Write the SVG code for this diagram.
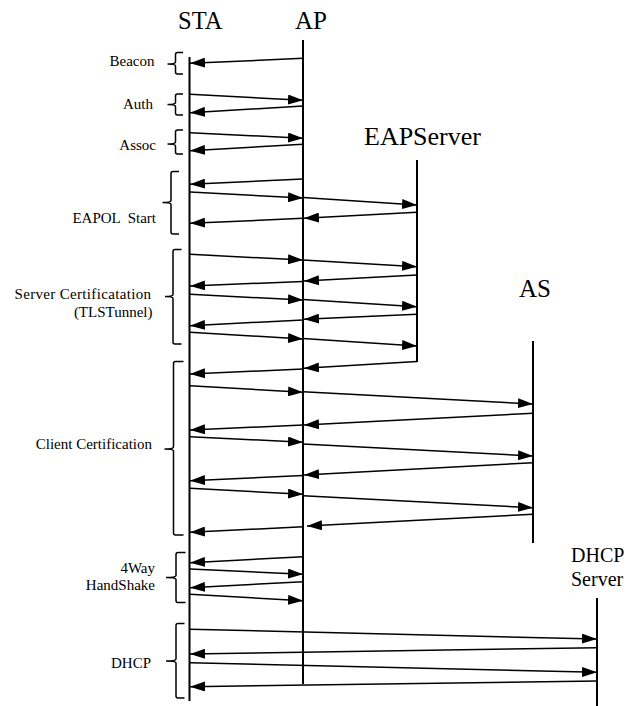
<svg xmlns="http://www.w3.org/2000/svg" width="640" height="706" viewBox="0 0 640 706">
<style>
.bg{fill:#ffffff}
.life{stroke:#000;stroke-width:2;fill:none}
.msg{stroke:#000;stroke-width:1.5;fill:none;marker-end:url(#ah)}
.brace{stroke:#000;stroke-width:1.5;fill:none}
.title{font-family:'Liberation Serif','Times New Roman',Times,'DejaVu Serif',serif;fill:#000}
.lbl{font-family:'Liberation Serif','Times New Roman',Times,'DejaVu Serif',serif;font-size:15px;fill:#000;text-anchor:end}
</style>
<defs>
<marker id="ah" markerUnits="userSpaceOnUse" markerWidth="15" markerHeight="10" refX="15" refY="5" orient="auto">
<path d="M0,0 L15,5 L0,10 z" fill="#000"/>
</marker>
</defs>
<rect class="bg" x="0" y="0" width="640" height="706"/>

<g id="STA">
<text class="title" x="178" y="29" font-size="24.5">STA</text>
<line class="life" x1="189.5" y1="57" x2="189.5" y2="701"/>
</g>
<g id="AP">
<text class="title" x="295" y="29" font-size="25">AP</text>
<line class="life" x1="303" y1="40" x2="303" y2="684"/>
</g>
<g id="EAPServer">
<text class="title" x="364" y="145" font-size="26">EAPServer</text>
<line class="life" x1="417" y1="160" x2="417" y2="362"/>
</g>
<g id="AS">
<text class="title" x="519" y="297" font-size="25">AS</text>
<line class="life" x1="533" y1="341" x2="533" y2="543"/>
</g>
<g id="DHCPServer">
<text class="title" x="571" y="561.5" font-size="20">DHCP</text>
<text class="title" x="571" y="585.5" font-size="20">Server</text>
<line class="life" x1="597" y1="598" x2="597" y2="706"/>
</g>

<g id="phase-beacon">
<text class="lbl" x="154.5" y="66">Beacon</text>
<path class="brace" d="M183,52.5 H177.5 Q175.5,52.5 175.5,54.5 V62 Q175.5,64 167.5,64 Q175.5,64 175.5,66 V72 Q175.5,74 177.5,74 H183"/>
</g>
<g id="phase-auth">
<text class="lbl" x="153" y="108.5">Auth</text>
<path class="brace" d="M183,94 H177.5 Q175.5,94 175.5,96 V102.5 Q175.5,104.5 167.5,104.5 Q175.5,104.5 175.5,106.5 V113 Q175.5,115 177.5,115 H183"/>
</g>
<g id="phase-assoc">
<text class="lbl" x="156" y="150">Assoc</text>
<path class="brace" d="M183,130 H177.5 Q175.5,130 175.5,132 V142 Q175.5,144 167.5,144 Q175.5,144 175.5,146 V152 Q175.5,154 177.5,154 H183"/>
</g>
<g id="phase-eapol">
<text class="lbl" x="156" y="223" xml:space="preserve">EAPOL  Start</text>
<path class="brace" d="M179,171.5 H173 Q171,171.5 171,173.5 V200.5 Q171,202.5 162.5,202.5 Q171,202.5 171,204.5 V232 Q171,234 173,234 H179"/>
</g>
<g id="phase-servercert">
<text class="lbl" x="151.3" y="299" letter-spacing="0.33">Server Certificatation</text>
<text class="lbl" x="152.5" y="316.5">(TLSTunnel)</text>
<path class="brace" d="M181.5,249.5 H175 Q173,249.5 173,251.5 V294.5 Q173,296.5 165,296.5 Q173,296.5 173,298.5 V342 Q173,344 175,344 H181.5"/>
</g>
<g id="phase-clientcert">
<text class="lbl" x="152" y="449">Client Certification</text>
<path class="brace" d="M183.5,361.5 H175.5 Q173.5,361.5 173.5,363.5 V447 Q173.5,449 164.5,449 Q173.5,449 173.5,451 V533 Q173.5,535 175.5,535 H183.5"/>
</g>
<g id="phase-4way">
<text class="lbl" x="155" y="572.5">4Way</text>
<text class="lbl" x="155" y="589.5">HandShake</text>
<path class="brace" d="M185.5,552.5 H178 Q176,552.5 176,554.5 V575.5 Q176,577.5 166,577.5 Q176,577.5 176,579.5 V600.5 Q176,602.5 178,602.5 H185.5"/>
</g>
<g id="phase-dhcp">
<text class="lbl" x="151" y="667.5">DHCP</text>
<path class="brace" d="M184.5,623.5 H178 Q176,623.5 176,625.5 V659 Q176,661 166,661 Q176,661 176,663 V696 Q176,698 178,698 H184.5"/>
</g>

<g id="connectors">
<line class="msg" x1="303" y1="58.3" x2="190" y2="63.3"/>
<line class="msg" x1="190" y1="94.3" x2="303" y2="100.3"/>
<line class="msg" x1="303" y1="106" x2="190" y2="112.7"/>
<line class="msg" x1="190" y1="132.7" x2="303" y2="138.3"/>
<line class="msg" x1="303" y1="144.3" x2="190" y2="150.7"/>

<line class="msg" x1="303" y1="179" x2="190" y2="184.3"/>
<line class="msg" x1="190" y1="192" x2="303" y2="198"/>
<line class="msg" x1="303" y1="197.5" x2="417" y2="205"/>
<line class="msg" x1="417" y1="212.3" x2="304" y2="218.3"/>
<line class="msg" x1="303" y1="218.3" x2="190" y2="223.3"/>

<line class="msg" x1="190" y1="254.3" x2="303" y2="260"/>
<line class="msg" x1="303" y1="260" x2="417" y2="266.7"/>
<line class="msg" x1="417" y1="275" x2="304" y2="281"/>
<line class="msg" x1="303" y1="281.5" x2="190" y2="286"/>
<line class="msg" x1="190" y1="294.3" x2="303" y2="300"/>
<line class="msg" x1="303" y1="299.5" x2="417" y2="306.7"/>
<line class="msg" x1="417" y1="314.3" x2="304" y2="319.3"/>
<line class="msg" x1="303" y1="320" x2="190" y2="325.7"/>
<line class="msg" x1="190" y1="332.3" x2="303" y2="339"/>
<line class="msg" x1="303" y1="338.5" x2="417" y2="346"/>
<line class="msg" x1="417" y1="361.5" x2="304" y2="368.3"/>
<line class="msg" x1="303" y1="369" x2="190" y2="374"/>

<line class="msg" x1="190" y1="385.7" x2="303" y2="392.3"/>
<line class="msg" x1="303" y1="391.7" x2="533" y2="404"/>
<line class="msg" x1="533" y1="413.3" x2="304" y2="425"/>
<line class="msg" x1="303" y1="425" x2="190" y2="430"/>
<line class="msg" x1="190" y1="436.7" x2="303" y2="442.3"/>
<line class="msg" x1="303" y1="444" x2="533" y2="456"/>
<line class="msg" x1="533" y1="462.7" x2="304" y2="475"/>
<line class="msg" x1="303" y1="475.5" x2="190" y2="480.7"/>
<line class="msg" x1="190" y1="488.3" x2="303" y2="494.3"/>
<line class="msg" x1="303" y1="495.7" x2="533" y2="507.7"/>
<line class="msg" x1="533" y1="514.3" x2="307" y2="526"/>
<line class="msg" x1="303" y1="526.7" x2="190" y2="532.3"/>

<line class="msg" x1="303" y1="556.7" x2="190" y2="562.7"/>
<line class="msg" x1="190" y1="569" x2="303" y2="574.3"/>
<line class="msg" x1="303" y1="581.7" x2="190" y2="587.7"/>
<line class="msg" x1="190" y1="594.3" x2="303" y2="600.7"/>

<line class="msg" x1="190" y1="629.3" x2="597" y2="639"/>
<line class="msg" x1="597" y1="647.7" x2="190" y2="654"/>
<line class="msg" x1="190" y1="662.7" x2="597" y2="672.3"/>
<line class="msg" x1="597" y1="681" x2="190" y2="686.7"/>
</g>
</svg>
